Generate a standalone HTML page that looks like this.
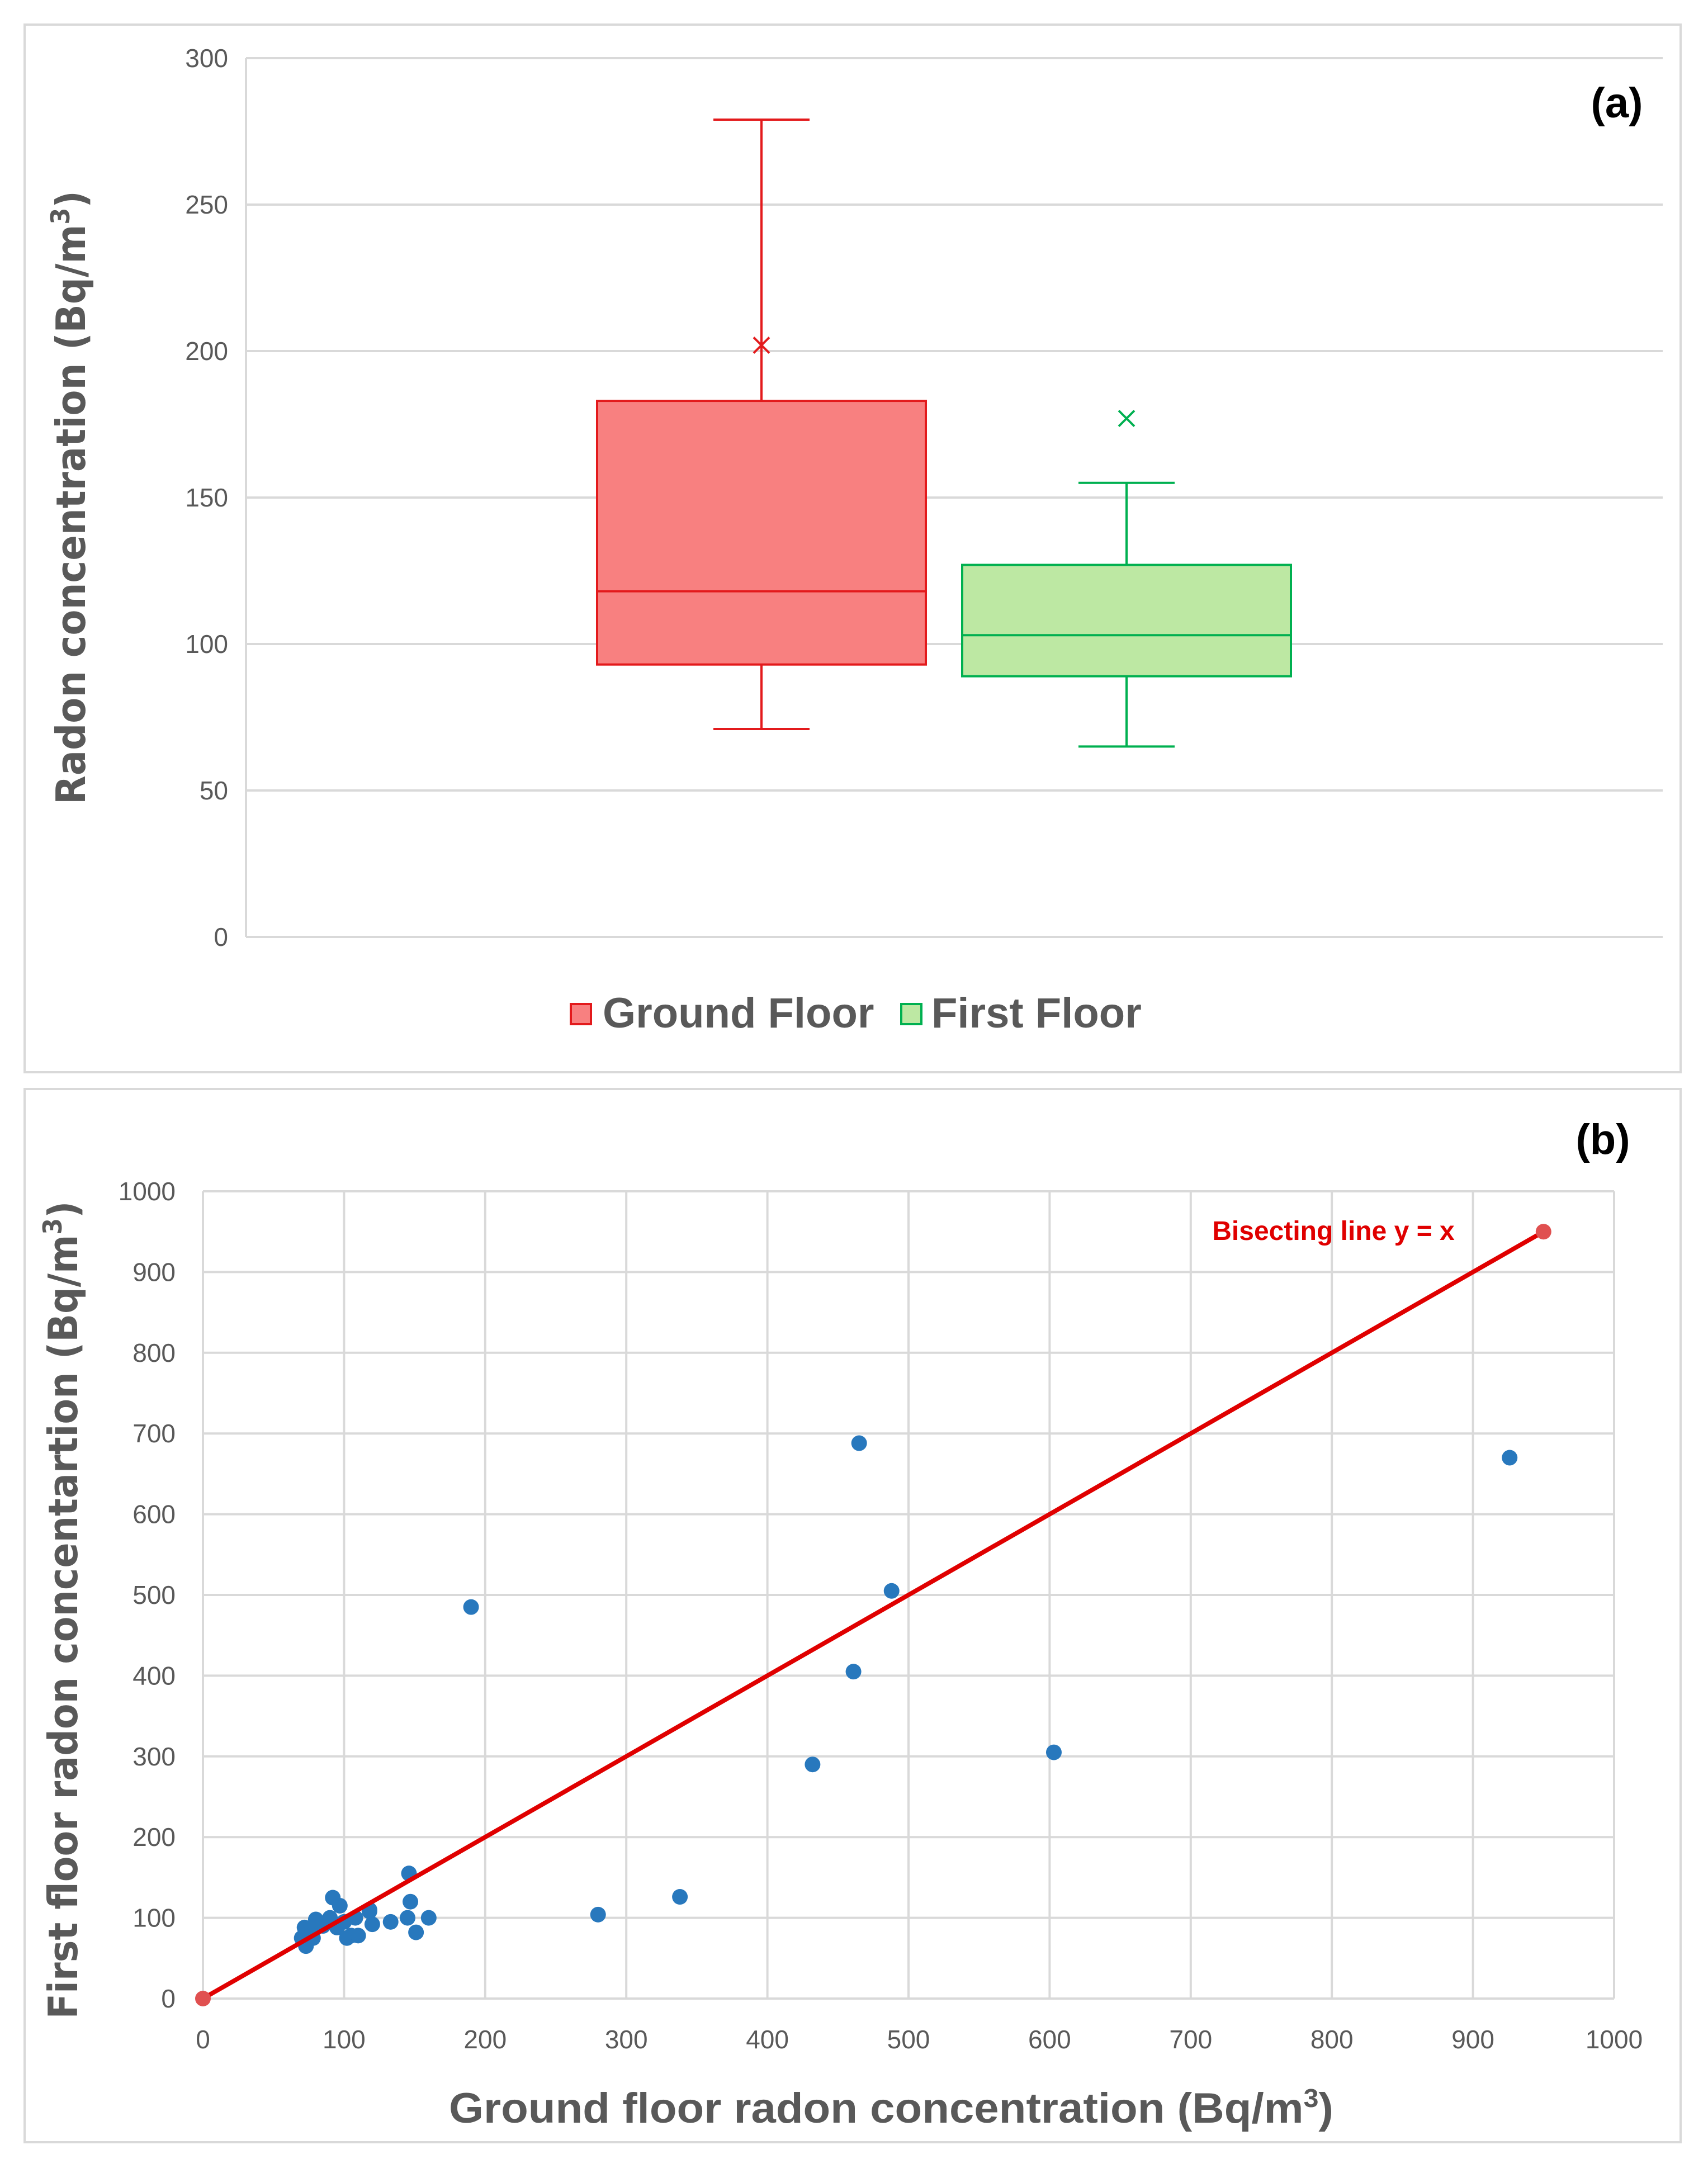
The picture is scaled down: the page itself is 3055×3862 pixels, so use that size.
<!DOCTYPE html>
<html><head><meta charset="utf-8"><style>
html,body{margin:0;padding:0;background:#fff}
svg{display:block}
</style></head><body>
<svg id="s" width="3055" height="3862" viewBox="0 0 3055 3862" xmlns="http://www.w3.org/2000/svg" font-family="Liberation Sans, sans-serif">
<rect x="44" y="44" width="2962" height="1874" fill="#fff" stroke="#d9d9d9" stroke-width="4"/>
<rect x="44" y="1948" width="2962" height="1884" fill="#fff" stroke="#d9d9d9" stroke-width="4"/>
<g id="ga"></g>
<g id="gb"></g>
<text x="2892" y="210" font-size="76" font-weight="bold" text-anchor="middle" fill="#000">(a)</text>
<text x="2867" y="2064" font-size="76" font-weight="bold" text-anchor="middle" fill="#000">(b)</text>
<text transform="translate(152,890) rotate(-90)" font-size="72" font-weight="bold" text-anchor="middle" fill="#595959" font-family="DejaVu Sans, sans-serif" textLength="1098" lengthAdjust="spacingAndGlyphs">Radon concentration (Bq/m<tspan font-size="46" dy="-28">3</tspan><tspan dy="28">)</tspan></text>
<text transform="translate(138,2880) rotate(-90)" font-size="72" font-weight="bold" text-anchor="middle" fill="#595959" font-family="DejaVu Sans, sans-serif" textLength="1463" lengthAdjust="spacingAndGlyphs">First floor radon concentartion (Bq/m<tspan font-size="46" dy="-28">3</tspan><tspan dy="28">)</tspan></text>
<text x="1594" y="3797" font-size="76" font-weight="bold" text-anchor="middle" fill="#595959" textLength="1582" lengthAdjust="spacingAndGlyphs">Ground floor radon concentration (Bq/m<tspan font-size="46" dy="-28">3</tspan><tspan dy="28">)</tspan></text>
<g>
<rect x="1021" y="1796" width="36" height="36" fill="#f88080" stroke="#e31a1c" stroke-width="4"/>
<text x="1078" y="1838" font-size="76" font-weight="bold" fill="#595959">Ground Floor</text>
<rect x="1612" y="1796" width="36" height="36" fill="#bde8a3" stroke="#00b050" stroke-width="4"/>
<text x="1666" y="1838" font-size="76" font-weight="bold" fill="#595959">First Floor</text>
</g>
<text x="2385" y="2218" font-size="48" font-weight="bold" text-anchor="middle" fill="#e00000">Bisecting line y = x</text>
</svg>
<script>
const boxNames=["Ground Floor","First Floor"];
const boxMin=[71,65];
const boxQ1=[93,89];
const boxMedian=[118,103];
const boxQ3=[183,127];
const boxMax=[279,155];
const boxMean=[202,177];
const yTicksA=[0,50,100,150,200,250,300];
const ptsX=[190,465,488,461,432,603,926,280,338,146,147,145,160,151,133,120,118,108,105,102,97,92,95,90,88,85,80,78,75,72,70,73,82,110,118,100];
const ptsY=[485,688,505,405,290,305,670,104,126,155,120,100,100,82,95,92,108,100,78,75,115,125,88,100,95,90,98,75,80,88,75,65,92,78,110,95];
const lineX=[0,950];
const lineY=[0,950];
const ticksB=[0,100,200,300,400,500,600,700,800,900,1000];

const NS="http://www.w3.org/2000/svg";
function mk(p,t,a){const e=document.createElementNS(NS,t);for(const k in a)e.setAttribute(k,a[k]);p.appendChild(e);return e;}
const ga=document.getElementById('ga'), gb=document.getElementById('gb');
const ay=v=>1676-(v/300)*(1676-104);
const cx=[1362,2015], hw=294, cap=86;
const fills=["#f88080","#bde8a3"], strokes=["#e31a1c","#00b050"];
yTicksA.forEach(t=>{
 const l=mk(ga,'line',{x1:440,x2:2974,y1:ay(t),y2:ay(t),stroke:'#d9d9d9','stroke-width':4});
 
 
 const tx=mk(ga,'text',{x:408,y:ay(t)+16,'font-size':46,'text-anchor':'end',fill:'#595959'});tx.textContent=t;
 
 
});
mk(ga,'line',{x1:440,x2:440,y1:104,y2:1676,stroke:'#d9d9d9','stroke-width':4});
boxNames.forEach((n,i)=>{
 const g=mk(ga,'g',{});
 
 
 const c=cx[i],s=strokes[i];
 mk(g,'line',{x1:c,x2:c,y1:ay(boxMax[i]),y2:ay(boxQ3[i]),stroke:s,'stroke-width':4});
 mk(g,'line',{x1:c,x2:c,y1:ay(boxQ1[i]),y2:ay(boxMin[i]),stroke:s,'stroke-width':4});
 mk(g,'line',{x1:c-cap,x2:c+cap,y1:ay(boxMax[i]),y2:ay(boxMax[i]),stroke:s,'stroke-width':4});
 mk(g,'line',{x1:c-cap,x2:c+cap,y1:ay(boxMin[i]),y2:ay(boxMin[i]),stroke:s,'stroke-width':4});
 mk(g,'rect',{x:c-hw,y:ay(boxQ3[i]),width:2*hw,height:ay(boxQ1[i])-ay(boxQ3[i]),fill:fills[i],stroke:s,'stroke-width':4});
 mk(g,'line',{x1:c-hw,x2:c+hw,y1:ay(boxMedian[i]),y2:ay(boxMedian[i]),stroke:s,'stroke-width':4});
 const m=ay(boxMean[i]);
 mk(g,'path',{d:`M${c-14} ${m-14}L${c+14} ${m+14}M${c+14} ${m-14}L${c-14} ${m+14}`,stroke:s,'stroke-width':4});
});
const bx=v=>363+(v/1000)*(2887-363);
const by=v=>3575-(v/1000)*(3575-2131);
ticksB.forEach(t=>{
 const h=mk(gb,'line',{x1:363,x2:2887,y1:by(t),y2:by(t),stroke:'#d9d9d9','stroke-width':4});
 
 
 const v=mk(gb,'line',{x1:bx(t),x2:bx(t),y1:2131,y2:3575,stroke:'#d9d9d9','stroke-width':4});
 
 
 const ty=mk(gb,'text',{x:314,y:by(t)+16,'font-size':46,'text-anchor':'end',fill:'#595959'});ty.textContent=t;
 
 
 const txx=mk(gb,'text',{x:bx(t),y:3664,'font-size':46,'text-anchor':'middle',fill:'#595959'});txx.textContent=t;
 
 
});
ptsX.forEach((x,i)=>{
 const c=mk(gb,'circle',{cx:bx(x),cy:by(ptsY[i]),r:14,fill:'#2878bd'});
 
 
});
const ln=mk(gb,'line',{x1:bx(lineX[0]),y1:by(lineY[0]),x2:bx(lineX[1]),y2:by(lineY[1]),stroke:'#e00000','stroke-width':8});


lineX.forEach((x,i)=>{
 const c=mk(gb,'circle',{cx:bx(x),cy:by(lineY[i]),r:14,fill:'#e05050'});
 
 
});
</script>
</body></html>
